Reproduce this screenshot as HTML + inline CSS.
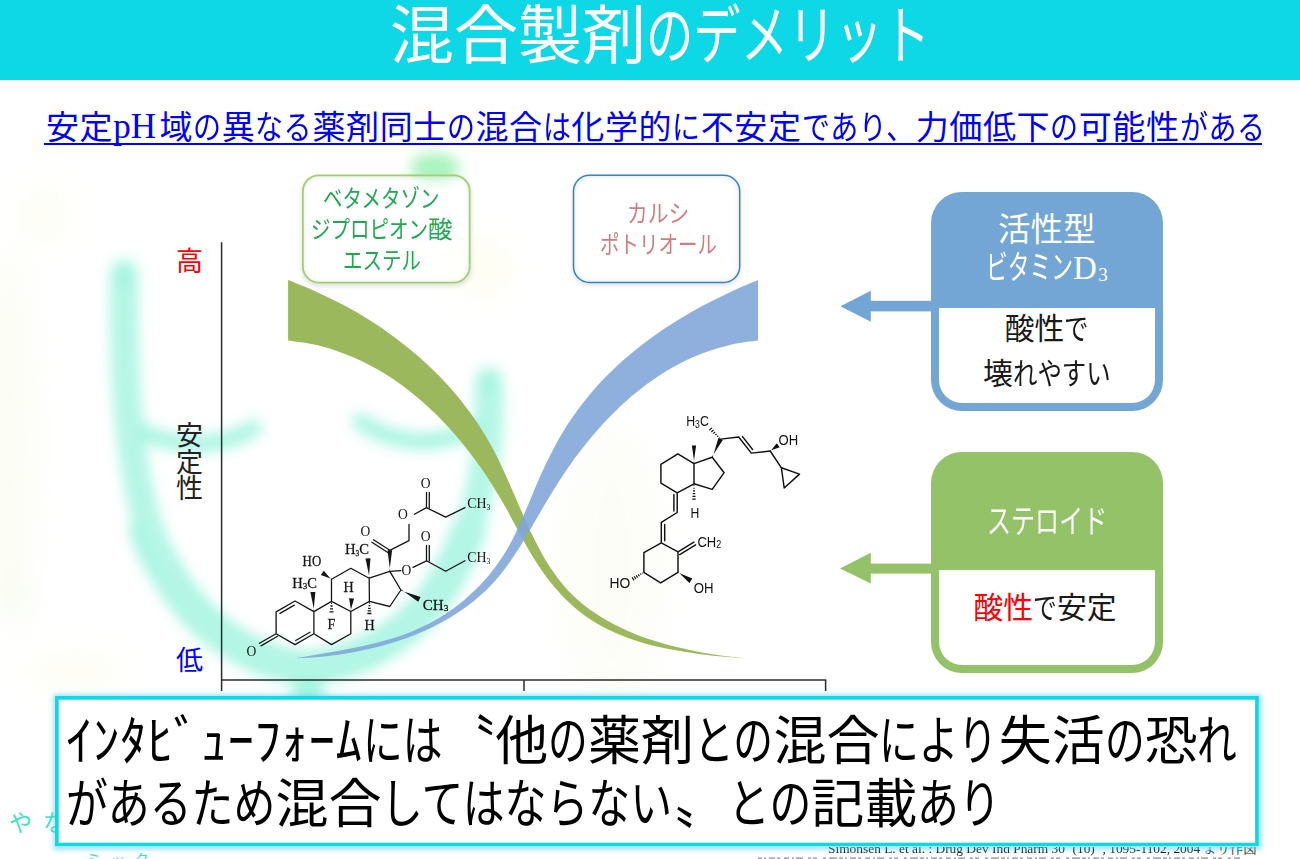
<!DOCTYPE html>
<html lang="ja">
<head>
<meta charset="utf-8">
<title>混合製剤のデメリット</title>
<style>
html,body{margin:0;padding:0}
body{width:1300px;height:859px;overflow:hidden;position:relative;background:#fff;font-family:"Liberation Sans","Noto Sans CJK JP",sans-serif;color:#111}
.ly{position:absolute;left:0;top:0;width:1300px;height:859px;display:block;pointer-events:none}
.abs{position:absolute;box-sizing:border-box}
header{position:absolute;left:0;top:0;width:1300px;height:80.4px;background:#0ed8e6}
.tx{position:absolute;margin:0;padding:0;white-space:nowrap;overflow:visible;line-height:1.15;font-family:"Liberation Sans","Noto Sans CJK JP",sans-serif;font-weight:400}
.tx.c{left:0;right:0;text-align:center}
.tx sub{font-family:"Liberation Serif",serif;font-size:58%}
.k{display:inline-block;white-space:nowrap;text-align:left;transform-origin:0 50%}
.lat{position:absolute;white-space:nowrap;font-family:"Liberation Serif",serif;line-height:1;opacity:.999}
.lbl{border-radius:16px;background:rgba(255,255,255,.4)}
.lbl.g{left:302px;top:174.5px;width:168.5px;height:109px;box-shadow:inset 0 0 7px rgba(90,90,90,.22),0 2px 5px rgba(0,0,0,.13)}
.lbl.b{left:572.7px;top:174.5px;width:167.8px;height:108.8px;box-shadow:inset 0 0 7px rgba(90,90,90,.22),0 2px 5px rgba(0,0,0,.13)}
.box{border-radius:31px}
.box .in{position:absolute;left:7.8px;right:7.8px;bottom:8.2px;background:#fff;border-radius:0 0 23px 23px}
.box.b{left:931px;top:191.6px;width:231.6px;height:219.6px;background:#74a6d5}
.box.b .in{top:116.2px}
.box.g{left:931px;top:452px;width:232px;height:221px;background:#93c269}
.box.g .in{top:118px}
.callout{left:55.1px;top:696.4px;width:1203.8px;height:150.4px;background:#fff;box-shadow:0 0 5px 2.5px rgba(70,200,240,.55)}
.cite{top:842px;font-size:13.4px;color:#1c1c1c}
.ul{left:44px;top:143.4px;width:1218.4px;height:2px;background:#0000ff}
</style>
</head>
<body>
<svg class="ly" width="1300" height="859" viewBox="0 0 1300 859" aria-hidden="true">
<defs>
<filter id="bl" x="-20%" y="-20%" width="140%" height="140%"><feGaussianBlur stdDeviation="7"/></filter>
<filter id="bl2" x="-30%" y="-30%" width="160%" height="160%"><feGaussianBlur stdDeviation="14"/></filter>
</defs>
<g filter="url(#bl2)" opacity=".2">
<ellipse cx="45" cy="215" rx="34" ry="34" fill="#fbfbd8"/>
<ellipse cx="10" cy="440" rx="26" ry="190" fill="#eef5c8"/>
<ellipse cx="16" cy="596" rx="16" ry="20" fill="#d9f0b0"/>
<ellipse cx="482" cy="268" rx="30" ry="34" fill="#f9f9c4"/>
<ellipse cx="612" cy="570" rx="52" ry="140" fill="#f1f8d8"/>
<ellipse cx="75" cy="672" rx="55" ry="28" fill="#fbfbd8"/>
</g>
<g filter="url(#bl)" fill="none" stroke="#8ff2d9" stroke-linecap="round" stroke-linejoin="round" opacity=".8">
<path stroke-width="26" d="M124 273C124 330 124 380 130 430C136 490 148 540 175 585C205 632 255 664 308 668C360 664 410 634 440 590C468 545 480 500 486 455C490 430 489 405 489 381"/>
<path stroke-width="30" d="M308 668L308 700"/>
<path stroke-width="33" d="M146 530C153 550 163 568 175 585C205 632 255 664 308 668C360 664 410 634 440 590C452 570 462 550 469 530"/>
<path stroke-width="16" d="M134 427C165 446 215 452 254 428"/>
<path stroke-width="16" d="M360 421C395 446 440 448 478 426"/>
</g>
<g filter="url(#bl)" fill="none" stroke="#fff" stroke-linecap="round" opacity=".45">
<path stroke-width="6" d="M124 290C124 330 124 380 130 430C136 490 148 540 175 585C205 632 255 664 308 668C360 664 410 634 440 590C468 545 480 500 486 455C490 430 489 405 489 395"/>
</g>
<g filter="url(#bl)"><ellipse cx="435" cy="168" rx="25" ry="15" fill="#a4f2b9" opacity=".95"/></g>
</svg>
<header><h1 class="tx" style="left:390px;top:0px;width:540px;font-size:64px;color:#fff">混合製剤<span class="k" style="width:284px;transform:scaleX(.74)">のデメリット</span></h1></header>
<p class="tx" style="left:46px;top:108.5px;width:1216px;font-size:33px;letter-spacing:.6px;color:#0000ff">安定<span style="font-family:'Liberation Serif',serif;font-size:35px;line-height:1;letter-spacing:0;margin-right:3.6px;position:relative;top:-1px">pH</span>域<span class="k" style="width:28.6px;transform:scaleX(.85)">の</span>異<span class="k" style="width:57.1px;transform:scaleX(.85)">なる</span>薬剤同士<span class="k" style="width:28.6px;transform:scaleX(.85)">の</span>混合<span class="k" style="width:28.6px;transform:scaleX(.85)">は</span>化学的<span class="k" style="width:28.6px;transform:scaleX(.85)">に</span>不安定<span class="k" style="width:114.2px;transform:scaleX(.85)">であり、</span>力価低下<span class="k" style="width:28.6px;transform:scaleX(.85)">の</span>可能性<span class="k" style="width:85.7px;transform:scaleX(.85)">がある</span></p>
<div class="abs ul"></div>
<svg class="ly" width="1300" height="859" viewBox="0 0 1300 859" aria-hidden="true">
<path d="M288.1 280.1C292.8 282 307 287.5 316.2 291.7C325.4 295.8 334.6 300.3 343.5 305.1C352.4 309.8 361.2 314.9 369.8 320.3C378.3 325.7 386.7 331.4 394.8 337.4C402.9 343.4 410.8 349.7 418.3 356.3C425.9 362.9 433.2 369.8 440.2 377C447.2 384.2 453.9 391.7 460.1 399.5C466.4 407.3 472.4 415.4 478 423.8C483.5 432.2 488.6 440.9 493.4 449.8C498.2 458.8 502.5 468.1 506.7 477.4C511 486.8 514.9 496.3 519 505.7C523.2 515.1 527.2 524.6 531.6 533.8C536.1 542.9 540.6 552 545.8 560.5C551 568.9 556.5 577.1 562.8 584.5C569.1 591.9 576 598.7 583.5 604.8C591.1 610.9 599.3 616.2 607.9 621.1C616.4 626 625.6 630.2 635 634C644.3 637.7 654.2 640.9 664 643.8C673.9 646.6 684.1 648.9 694.3 650.9C704.4 653 714.7 654.6 724.9 655.9C735 657.3 750 658.7 755 659.2L755 659.2C750.4 658.8 736.9 657.9 727.5 657C718.2 656.1 708.5 655.2 698.9 653.9C689.3 652.7 679.5 651.2 669.9 649.3C660.4 647.4 650.7 645.2 641.5 642.5C632.2 639.7 623.1 636.5 614.5 632.6C605.8 628.7 597.5 624.2 589.7 619C582 613.8 574.7 607.8 567.9 601.4C561.2 595 554.9 587.9 549.1 580.6C543.4 573.3 538.3 565.4 533.3 557.5C528.4 549.6 524 541.3 519.5 533C514.9 524.8 510.7 516.3 506 508.1C501.3 499.8 496.5 491.5 491.3 483.4C486.1 475.3 480.7 467.3 474.9 459.5C469.2 451.7 463.2 444.1 456.9 436.8C450.7 429.5 444.1 422.4 437.3 415.6C430.5 408.9 423.5 402.4 416.2 396.4C408.9 390.3 401.3 384.6 393.5 379.3C385.7 374.1 377.6 369.2 369.3 364.9C361 360.5 352.4 356.6 343.6 353.4C334.8 350.1 325.8 347.3 316.6 345.1C307.3 343 292.8 341.4 288.1 340.6Z" fill="#9bb85d"/>
<path d="M758.1 280.1C753.5 282.1 739.6 287.7 730.5 292C721.5 296.2 712.5 300.6 703.6 305.3C694.8 310 686.1 315 677.6 320.2C669.1 325.5 660.7 331 652.7 336.8C644.6 342.7 636.7 348.8 629.1 355.2C621.6 361.6 614.2 368.3 607.3 375.3C600.3 382.4 593.6 389.7 587.3 397.4C581 405.1 575.1 413.1 569.6 421.4C564 429.7 558.9 438.5 554.2 447.4C549.4 456.3 545 465.6 540.8 474.8C536.6 484 532.9 493.5 529 502.7C525 511.9 521.4 521.2 517.1 530C512.8 538.9 508.4 547.7 503 556C497.7 564.2 491.7 572.2 485.2 579.6C478.6 587 471.4 594 463.9 600.3C456.3 606.7 448.1 612.5 439.7 617.6C431.2 622.7 422.3 627.1 413.2 630.9C404.1 634.7 394.6 637.8 385 640.5C375.4 643.3 365.6 645.4 355.7 647.5C345.8 649.6 335.8 651.3 325.8 653.1C315.9 654.9 301 657.4 296 658.3L296 658.3C300.7 658 314.8 657.3 324.2 656.4C333.6 655.4 343.1 654.1 352.5 652.4C361.8 650.7 371.2 648.7 380.4 646.3C389.5 643.8 398.6 641 407.4 637.8C416.2 634.6 424.9 630.9 433.2 626.8C441.5 622.7 449.6 618.2 457.2 613.1C464.9 608.1 472.2 602.6 479.1 596.6C486 590.6 492.4 584.1 498.4 577.1C504.4 570.1 509.7 562.3 514.9 554.6C520.1 546.8 524.8 538.5 529.6 530.4C534.5 522.3 539.1 514.1 543.9 506C548.7 498 553.5 490 558.6 482.1C563.7 474.2 568.9 466.4 574.4 458.8C580 451.2 585.8 443.7 591.9 436.5C598 429.2 604.4 422.1 611 415.4C617.7 408.7 624.6 402.2 631.8 396.1C639 390.1 646.5 384.3 654.2 379C661.9 373.7 669.9 368.8 678.1 364.5C686.3 360.1 694.7 356.2 703.4 353C712.1 349.7 721 346.9 730.1 344.9C739.2 342.8 753.4 341.3 758.1 340.6Z" fill="#80a5d8" fill-opacity=".88"/>
<g stroke="#2b2b2b" stroke-width="1.5" fill="none">
<path d="M221.6 242.3V691"/><path d="M221 680H826.3"/><path d="M524 680V691"/><path d="M825.6 680V691"/>
</g>
<g fill="#74a6d5"><rect x="869" y="300.8" width="64" height="10.6"/><path d="M840.4 306.2L870.8 290.8V321.8Z"/></g>
<g fill="#93c269"><rect x="869" y="563.6" width="64" height="10"/><path d="M840 568.4L870.8 552.8V583.6Z"/></g>
</svg>
<div class="tx" style="left:176px;top:246.5px;width:28px;font-size:27px;color:#ff0000">高</div>
<div class="tx" style="left:176px;top:423px;width:28px;height:82px;font-size:27px;line-height:26.5px;color:#222">安<br>定<br>性</div>
<div class="tx" style="left:176px;top:645.5px;width:28px;font-size:27px;color:#0000ff">低</div>
<div class="abs lbl g"><p class="tx c" style="top:8px;right:9px;font-size:24.4px;line-height:31.4px;color:#1fa851"><span class="k" style="width:117.1px;transform:scaleX(.8)">ベタメタゾン</span><br><span class="k" style="width:117.1px;transform:scaleX(.8)">ジプロピオン</span>酸<br><span class="k" style="width:78.1px;transform:scaleX(.8)">エステル</span></p></div>
<div class="abs lbl b"><p class="tx c" style="top:23.5px;left:4px;font-size:24.4px;line-height:31.4px;color:#cd7f7f"><span class="k" style="width:62.2px;transform:scaleX(.85)">カルシ</span><br><span class="k" style="width:117.1px;transform:scaleX(.8)">ポトリオール</span></p></div>
<svg class="ly" width="1300" height="859" viewBox="0 0 1300 859" aria-hidden="true"><rect x="302.9" y="175.3" width="166.8" height="107.3" rx="16" fill="none" stroke="#a0d070" stroke-width="1.8"/><rect x="573.5" y="175.3" width="166.2" height="107.1" rx="16" fill="none" stroke="#2f86c8" stroke-width="1.5"/></svg>
<svg class="ly" width="1300" height="859" viewBox="0 0 1300 859" style="opacity:.999" role="img" aria-label="chemical structures"><g fill="none" stroke="#151515" stroke-width="1.3" stroke-linecap="round" stroke-linejoin="round"><path d="M276.1 611.9L295 601L313.9 611.6L313.9 633.7L295 644.6L276.1 633.7ZM313.9 611.6L331.5 601.4L350.8 611.5L350.8 633.7L331.5 644.6L313.9 633.7M331.5 601.4L331.5 579.2L350.8 568.3L369.2 578.2L369.4 601.4L350.8 611.5M369.2 578.2L389.8 571.4L400.9 590L389.8 606.5L369.4 601.4M280 613.4L294.3 605.1M295.7 640.5L310 632.2M276.1 633.7L259.5 643.3M277.6 636.3L261 645.9M389.8 550.3L373.5 539.8M388.2 552.8L371.9 542.3M389.8 550.3L409 540.7L409 524.3M414.4 514.3L426.5 507.6L445.7 517.2L464.9 507.6M426.5 507.6L426.5 492.5M429.3 507.6L429.3 492.5M389.8 571.4L400.8 570.7M413 567.3L426.5 560.8L445.7 571.3L464.9 560.8M426.5 560.8L426.5 545.5M429.3 560.8L429.3 545.5"/><path d="M332.1 603.1L330.9 603.1M332.6 606L330.4 606M333 608.9L330 608.9M333.5 611.8L329.5 611.8M369.9 603L368.9 603M370.3 605.6L368.5 605.6M370.7 608.3L368.1 608.3M371.1 610.9L367.7 610.9M371.5 613.5L367.3 613.5" stroke-width="1.3" stroke-linecap="butt"/></g><path d="M313.5 611.6L315.4 591.9L310.4 592.1L314.3 611.6ZM331.3 579.5L323.8 570.8L320.8 575L331.7 578.9ZM350.4 611.5L354.1 598.6L349.1 598.2L351.2 611.5ZM368.8 578.2L370.5 558.2L365.5 558.6L369.6 578.2ZM401.1 589.6L418.2 601.7L420.6 596.9L400.7 590.4ZM389.4 571.4L392.1 550.3L387.5 550.3L390.2 571.4Z" fill="#151515"/><g fill="#151515"><text x="246.6" y="655.8" font-size="14.6" font-weight="400" font-family="'Liberation Serif',serif" textLength="9.8" lengthAdjust="spacingAndGlyphs">O</text><text stroke="#151515" stroke-width=".26" x="292.3" y="587.6" font-size="14.6" font-weight="400" font-family="'Liberation Serif',serif" textLength="24.7" lengthAdjust="spacingAndGlyphs">H<tspan font-size="9.1" dy="1.8">3</tspan><tspan dy="-1.8">C</tspan></text><text stroke="#151515" stroke-width=".26" x="302.6" y="566.4" font-size="14.6" font-weight="400" font-family="'Liberation Serif',serif" textLength="18.6" lengthAdjust="spacingAndGlyphs">HO</text><text stroke="#151515" stroke-width=".26" x="327.6" y="628.6" font-size="14.6" font-weight="400" font-family="'Liberation Serif',serif" textLength="7.8" lengthAdjust="spacingAndGlyphs">F</text><text stroke="#151515" stroke-width=".26" x="343.6" y="591.5" font-size="14.6" font-weight="400" font-family="'Liberation Serif',serif" textLength="10.2" lengthAdjust="spacingAndGlyphs">H</text><text stroke="#151515" stroke-width=".26" x="364.4" y="629.9" font-size="14.6" font-weight="400" font-family="'Liberation Serif',serif" textLength="10.2" lengthAdjust="spacingAndGlyphs">H</text><text stroke="#151515" stroke-width=".26" x="345" y="553.8" font-size="14.6" font-weight="400" font-family="'Liberation Serif',serif" textLength="24" lengthAdjust="spacingAndGlyphs">H<tspan font-size="7.3" dy="1.8">3</tspan><tspan dy="-1.8">C</tspan></text><text stroke="#151515" stroke-width=".26" x="422.8" y="609.6" font-size="14.6" font-weight="400" font-family="'Liberation Serif',serif" textLength="25.6" lengthAdjust="spacingAndGlyphs">CH<tspan font-size="9.1" dy="1.8">3</tspan></text><text x="360.4" y="535.9" font-size="14.6" font-weight="400" font-family="'Liberation Serif',serif" textLength="9.8" lengthAdjust="spacingAndGlyphs">O</text><text x="398" y="518.5" font-size="14.6" font-weight="400" font-family="'Liberation Serif',serif" textLength="9.8" lengthAdjust="spacingAndGlyphs">O</text><text x="401.4" y="574.9" font-size="14.6" font-weight="400" font-family="'Liberation Serif',serif" textLength="9.8" lengthAdjust="spacingAndGlyphs">O</text><text x="420.7" y="487.9" font-size="14.6" font-weight="400" font-family="'Liberation Serif',serif" textLength="9.8" lengthAdjust="spacingAndGlyphs">O</text><text x="420.7" y="541.2" font-size="14.6" font-weight="400" font-family="'Liberation Serif',serif" textLength="9.8" lengthAdjust="spacingAndGlyphs">O</text><text x="467.3" y="508.4" font-size="14.6" font-weight="400" font-family="'Liberation Serif',serif" textLength="23.1" lengthAdjust="spacingAndGlyphs">CH<tspan font-size="8" dy="1.8">3</tspan></text><text x="467.3" y="562.4" font-size="14.6" font-weight="400" font-family="'Liberation Serif',serif" textLength="23.1" lengthAdjust="spacingAndGlyphs">CH<tspan font-size="8" dy="1.8">3</tspan></text></g><g fill="none" stroke="#111" stroke-width="1.45" stroke-linecap="round" stroke-linejoin="round"><path d="M677.9 453.8L660.9 464.3L660.9 483.1L677.2 492.9L694 483.8L694 463.6ZM694 463.6L712.2 457.3L724.1 472.7L712.2 489.4L694 483.8M677.2 492.9L677.2 512.5L661.3 522.4L661.3 542.8M673.9 494.5L673.9 510.9M664.7 524.4L664.7 540.8M661.3 542.8L678 551.9L678 572.3L660.6 582.9L643.9 572.3L643.9 552.7ZM678 551.9L693.9 542.1M679.7 554.6L695.6 544.8M720.6 439.1L738.7 437L751.3 453.1L770.2 451L781.4 467.8M742.5 436.6L752.6 449.5M781.4 467.8L799.5 474.1L784.2 488Z"/><path d="M694.5 485.4L693.5 485.4M694.7 488.2L693.3 488.2M695 490.9L693 490.9M695.2 493.6L692.8 493.6M695.5 496.4L692.5 496.4M695.7 499.1L692.3 499.1M719.2 438.4L719.9 437.7M717.2 436.8L718.3 435.7M715.3 435.2L716.7 433.8M713.3 433.6L715.1 431.8M711.3 432L713.5 429.8M709.3 430.4L711.9 427.8M643 573.4L642.5 572.6M641.2 574.8L640.4 573.5M639.4 576.2L638.3 574.4M637.6 577.6L636.3 575.4M635.8 579L634.2 576.3M634 580.4L632.1 577.2" stroke-width="1.15" stroke-linecap="butt"/></g><path d="M693.6 463.6L696.1 445.4L691.9 445.4L694.4 463.6ZM711.8 457.1L722.8 440.1L718.4 438.1L712.6 457.5ZM770 450.7L779.7 447.2L776.7 443.2L770.4 451.3ZM678.2 572L689.4 583.1L692.4 578.5L677.8 572.6Z" fill="#111"/><g fill="#111"><text x="686.2" y="425.9" font-size="15.2" font-weight="400" font-family="'Liberation Sans',sans-serif" textLength="22.6" lengthAdjust="spacingAndGlyphs">H<tspan font-size="10.6" dy="1.8">3</tspan><tspan dy="-1.8">C</tspan></text><text x="778.6" y="444.7" font-size="15.2" font-weight="400" font-family="'Liberation Sans',sans-serif" textLength="19.6" lengthAdjust="spacingAndGlyphs">OH</text><text x="690.4" y="517.6" font-size="15.2" font-weight="400" font-family="'Liberation Sans',sans-serif" textLength="8.8" lengthAdjust="spacingAndGlyphs">H</text><text x="697.4" y="546.6" font-size="15.2" font-weight="400" font-family="'Liberation Sans',sans-serif" textLength="23.8" lengthAdjust="spacingAndGlyphs">CH<tspan font-size="10.6" dy="1.8">2</tspan></text><text x="693.8" y="592.6" font-size="15.2" font-weight="400" font-family="'Liberation Sans',sans-serif" textLength="19.8" lengthAdjust="spacingAndGlyphs">OH</text><text x="609.6" y="588.2" font-size="15.2" font-weight="400" font-family="'Liberation Sans',sans-serif" textLength="20.8" lengthAdjust="spacingAndGlyphs">HO</text></g></svg>
<div class="abs box b"><p class="tx c" style="top:19px;font-size:32.5px;line-height:38.5px;color:#fff">活性型<br><span class="k" style="width:87px;transform:scaleX(.669)">ビタミン</span><span style="font-family:'Liberation Serif',serif;font-size:33px;line-height:1">D<sub style="vertical-align:baseline;position:relative;top:1.6px;margin-left:1.4px">3</sub></span></p><div class="in"><p class="tx c" style="top:-2px;font-size:29.8px;line-height:45px;color:#1a1a1a">酸性<span class="k" style="width:24.4px;transform:scaleX(.82)">で</span><br>壊<span class="k" style="width:97.7px;transform:scaleX(.82)">れやすい</span></p></div></div>
<div class="abs box g"><p class="tx c" style="top:50px;font-size:32.5px;line-height:41px;color:#fff"><span class="k" style="width:120px;transform:scaleX(.74)">ステロイド</span></p><div class="in"><p class="tx c" style="top:20px;right:4px;font-size:29.8px;line-height:36px;color:#1a1a1a"><span style="color:#ff0000">酸性</span><span class="k" style="width:23.8px;transform:scaleX(.8)">で</span>安定</p></div></div>
<span class="lat cite" style="left:828px">Simonsen L. et al. : Drug Dev Ind Pharm 30</span><span class="lat cite" style="left:1072.5px">(10)</span><span class="lat cite" style="left:1102.5px">, 1095-1102, 2004</span><span class="tx" style="left:1203px;top:841px;width:46px;font-size:13.4px;color:#1c1c1c;font-family:'Liberation Serif','Noto Serif CJK SC','Noto Sans CJK JP',serif">より作図</span>
<svg class="ly" width="1300" height="859" viewBox="0 0 1300 859" aria-hidden="true"><path d="M758 858.2H1240" stroke="#333" stroke-width="1.8" stroke-dasharray="4 2 2 3 6 2 3 4 5 3 2 2 7 5 3 2 4 6 3 3 8 2" opacity=".4"/></svg>
<span class="tx" style="left:9px;top:810px;width:70px;font-size:23px;letter-spacing:11px;color:#45dfc8">やな</span>
<span class="tx" style="left:86px;top:851px;font-size:15px;letter-spacing:9px;color:#45dfc8">ミック</span>
<div class="abs callout"><svg style="position:absolute;left:0;top:0" width="1204" height="151" viewBox="0 0 1204 151" aria-hidden="true"><rect x="1.85" y="1.85" width="1200.1" height="146.7" fill="none" stroke="#0ed8e6" stroke-width="3.7"/></svg><p class="tx" style="left:11px;top:14px;width:1190px;height:126px;font-size:53px;line-height:63px;color:#000"><span style="letter-spacing:.5px">ｲﾝﾀﾋﾞｭｰﾌｫｰﾑ</span><span class="k" style="width:79.5px;transform:scaleX(.75)">には</span> <span style="margin-left:-14.7px">〝</span>他<span class="k" style="width:39.75px;transform:scaleX(.75)">の</span>薬剤<span class="k" style="width:79.5px;transform:scaleX(.75)">との</span>混合<span class="k" style="width:119.25px;transform:scaleX(.75)">により</span>失活<span class="k" style="width:39.75px;transform:scaleX(.75)">の</span>恐<span class="k" style="width:39.75px;transform:scaleX(.75)">れ</span><br><span class="k" style="width:209.4px;transform:scaleX(.79)">があるため</span>混合<span class="k" style="width:293.1px;transform:scaleX(.79)">してはならない</span>〟<span class="k" style="width:83.7px;transform:scaleX(.79)">との</span>記載<span class="k" style="width:83.7px;transform:scaleX(.79)">あり</span></p></div>
</body>
</html>
